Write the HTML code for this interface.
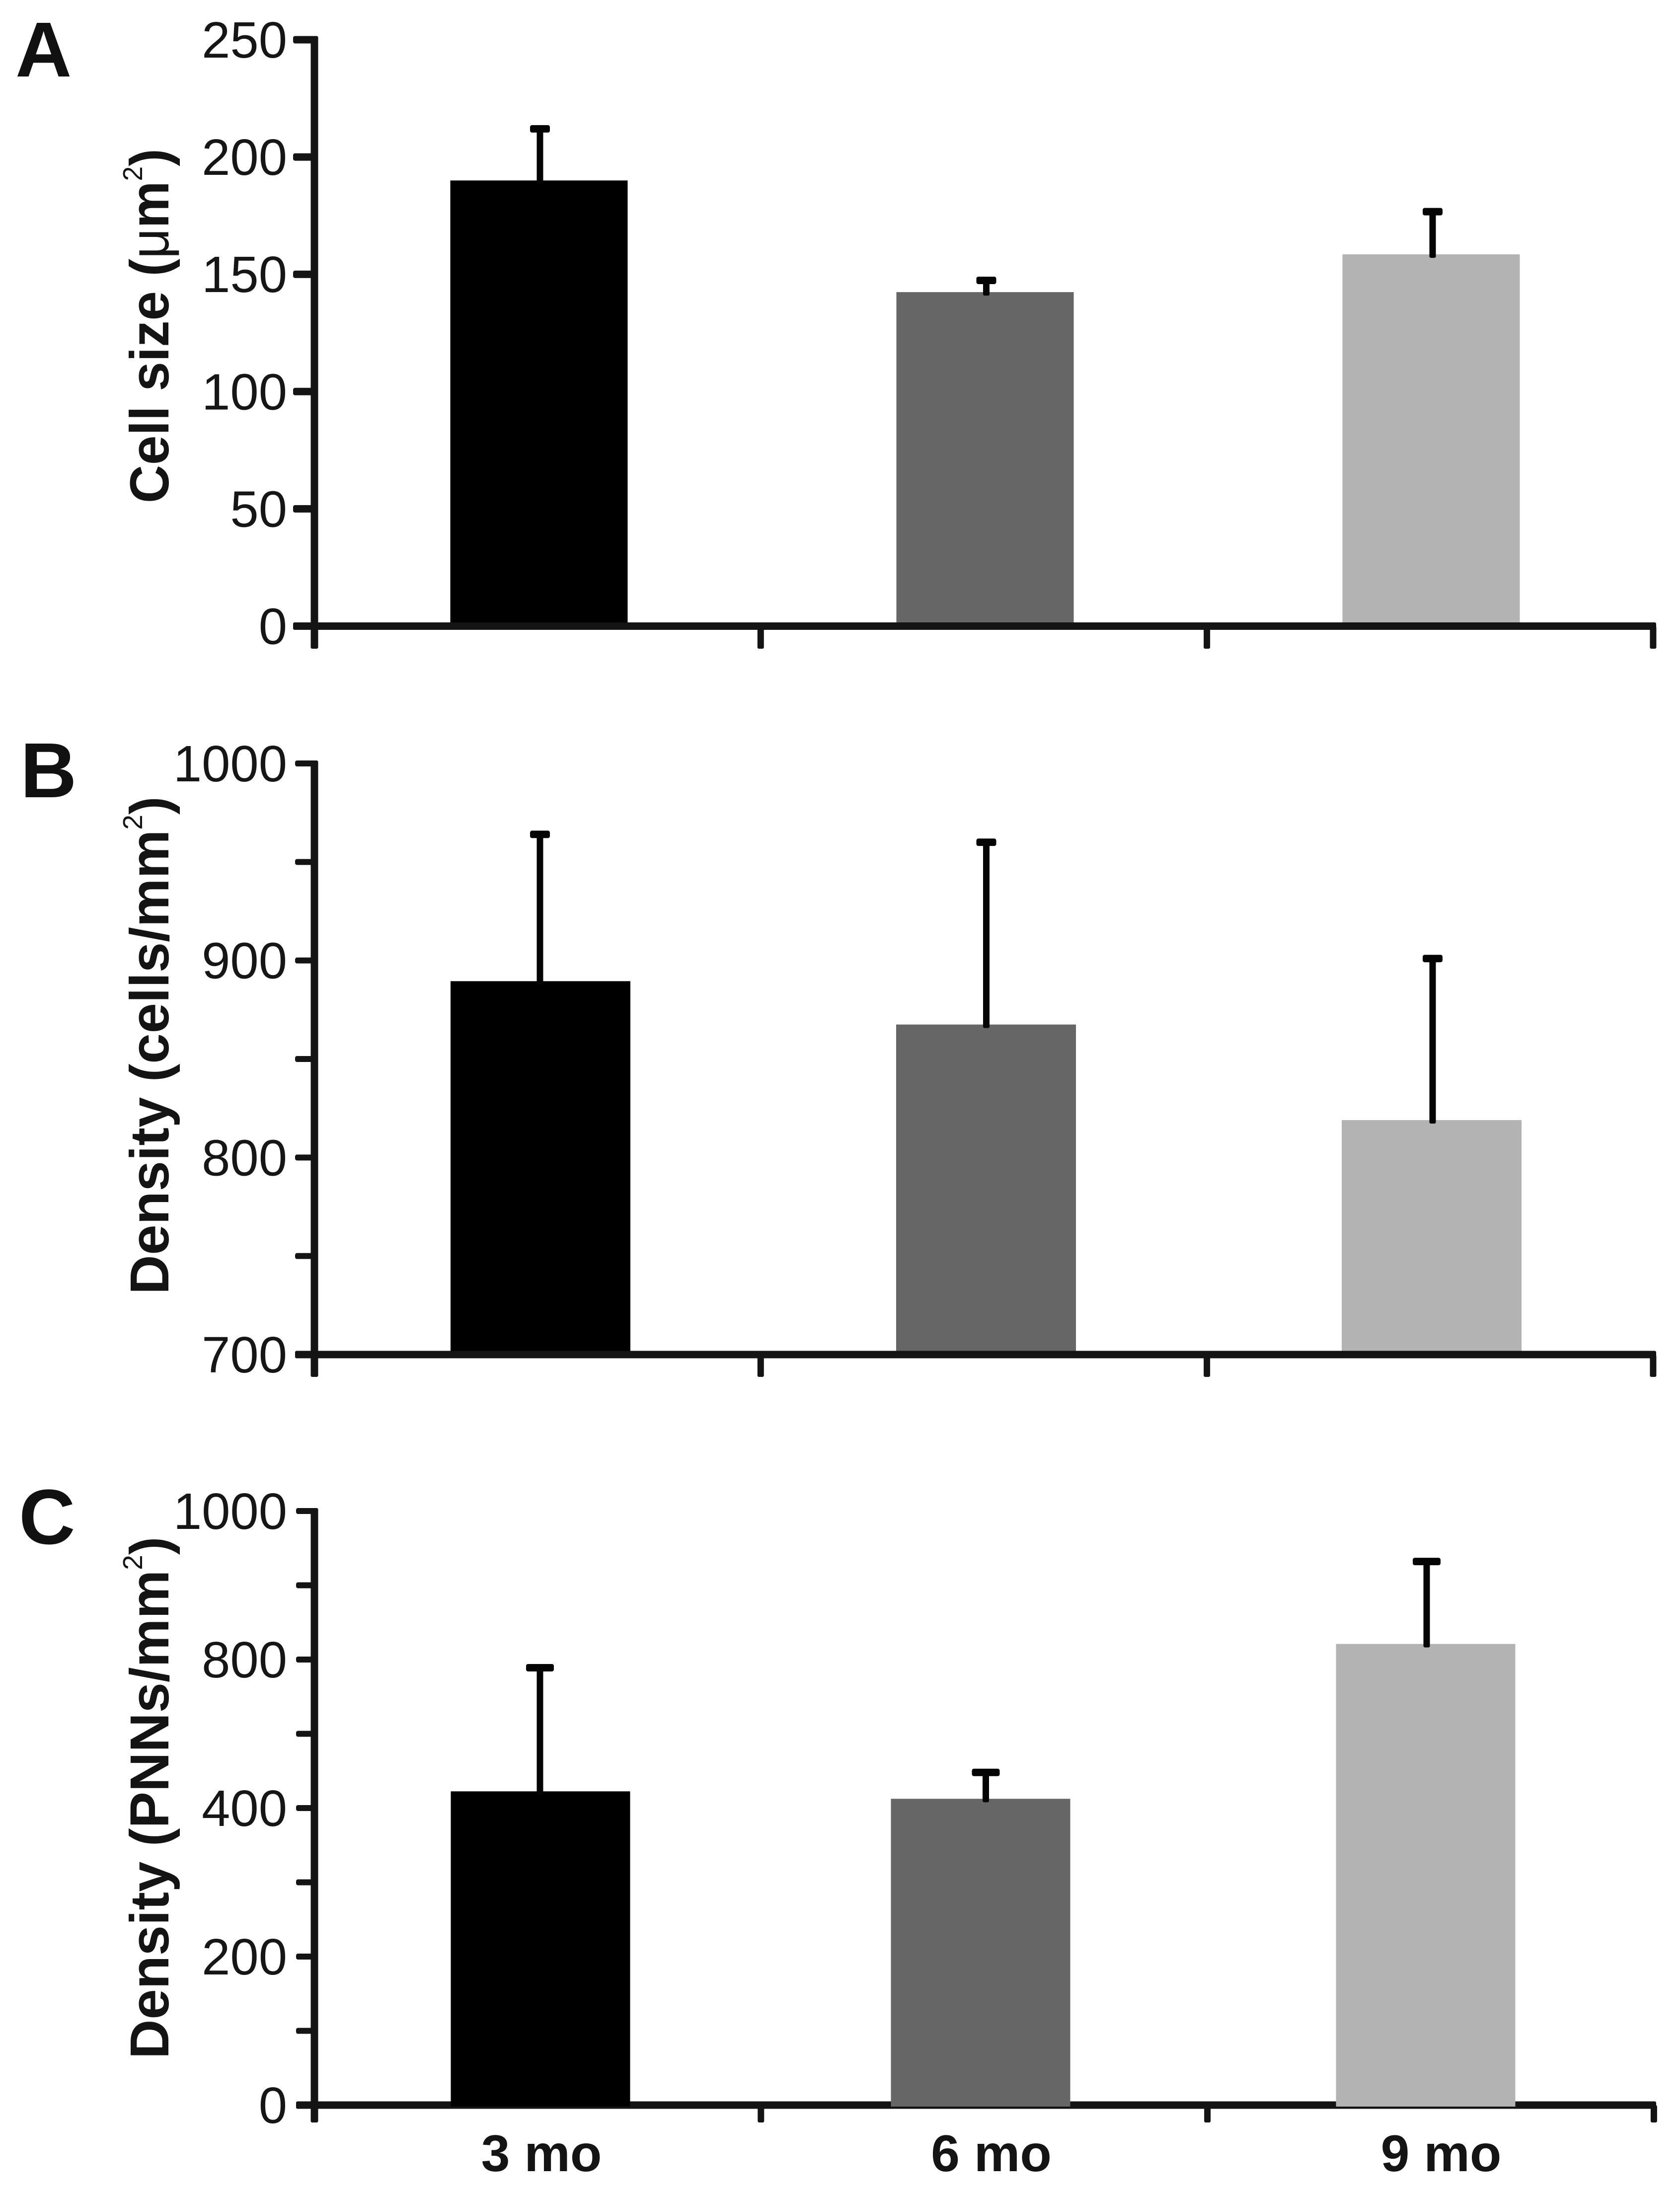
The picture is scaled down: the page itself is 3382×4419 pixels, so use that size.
<!DOCTYPE html>
<html lang="en">
<head>
<meta charset="utf-8">
<title>Cell size and density by age</title>
<style>
  html, body { margin: 0; padding: 0; background: #fff; }
  svg { display: block; font-family: "Liberation Sans", Arial, sans-serif; }
  .tick-label { font-size: 103px; fill: #161616; text-anchor: end; }
  .axis-title { font-size: 110px; font-weight: 700; fill: #141414; }
  .axis-title .thin { font-weight: 400; }
  .panel-letter { font-size: 157px; font-weight: 700; fill: #111; }
  .category-label { font-size: 104px; font-weight: 700; fill: #141414; text-anchor: middle; }
</style>
</head>
<body>
<svg id="chart" xmlns="http://www.w3.org/2000/svg" width="3382" height="4419" viewBox="0 0 3382 4419">
  <rect width="3382" height="4419" fill="#fff"/>

  <text class="panel-letter" x="31" y="154">A</text>
  <text class="panel-letter" x="41" y="1605">B</text>
  <text class="panel-letter" x="38" y="3108">C</text>

  <text class="axis-title" transform="translate(339,1013) rotate(-90) scale(.97,1)">Cell size (<tspan class="thin">μ</tspan>m<tspan class="thin" dy="-53" font-size="55">2</tspan><tspan dy="53">)</tspan></text>
  <text class="axis-title" transform="translate(339,2606) rotate(-90)">Density (cells/mm<tspan class="thin" dy="-53" font-size="55">2</tspan><tspan dy="53">)</tspan></text>
  <text class="axis-title" transform="translate(339,4145) rotate(-90)">Density (PNNs/mm<tspan class="thin" dy="-53" font-size="55">2</tspan><tspan dy="53">)</tspan></text>
</svg>

<script>
// ---- data ----
const categories = ['3 mo', '6 mo', '9 mo'];

const cellSizeValues = [190, 142.4, 158.5];
const cellSizeErrorTops = [212, 147.4, 176.7];
const cellSizeTickValues = [0, 50, 100, 150, 200, 250];
const cellSizeTickLabels = ['0', '50', '100', '150', '200', '250'];

const cellDensityValues = [889.5, 867.5, 819];
const cellDensityErrorTops = [964, 960, 901];
const cellDensityTickValues = [700, 750, 800, 850, 900, 950, 1000];
const cellDensityTickLabels = ['700', '', '800', '', '900', '', '1000'];

// The printed axis of panel C reads 0, 200, 400, 800, 1000 at evenly spaced major ticks.
const pnnDensityValues = [445, 425, 821];
const pnnDensityErrorTops = [778, 496, 932];
const pnnDensityTickValues = [0, 100, 200, 300, 400, 600, 800, 900, 1000];
const pnnDensityTickLabels = ['0', '', '200', '', '400', '', '800', '', '1000'];
const pnnDensityScaleStops = [0, 200, 400, 800, 1000];

const barColors = ['#000000', '#666666', '#b3b3b3'];

// ---- drawing ----
const svg = document.getElementById('chart');
const NS = 'http://www.w3.org/2000/svg';
const AXIS_COLOR = '#141414';
const AXIS_X = 633;
const AXIS_RIGHT = 3334;
const LINE_WIDTH = 15;

function make(tag, attrs, parent) {
  const node = document.createElementNS(NS, tag);
  for (const key in attrs) node.setAttribute(key, attrs[key]);
  parent.appendChild(node);
  return node;
}

function linearFraction(min, max) {
  return function (v) { return (v - min) / (max - min); };
}

function piecewiseFraction(stops) {
  return function (v) {
    const n = stops.length - 1;
    for (let i = 0; i < n; i++) {
      if (v <= stops[i + 1] || i === n - 1) {
        return (i + (v - stops[i]) / (stops[i + 1] - stops[i])) / n;
      }
    }
    return 1;
  };
}

function drawPanel(p) {
  const yOf = function (v) { return p.bottom - p.fraction(v) * (p.bottom - p.top); };
  const group = make('g', {}, svg);
  
  

  function drawBars() {
    p.values.forEach(function (v, i) {
      const cx = p.barStart + i * p.barStep + (i === 1 ? p.middleNudge : 0);
      const bar = make('rect', {
        x: cx - p.barWidth / 2,
        y: yOf(v),
        width: p.barWidth,
        height: p.barBottom - yOf(v),
        fill: barColors[i]
      }, group);
      
      
    });
  }

  function drawAxes() {
    const yAxis = make('rect', {
      x: AXIS_X - LINE_WIDTH / 2, y: p.top - p.tickWidth / 2, width: LINE_WIDTH, height: p.axisEnd - p.top + p.tickWidth / 2,
      fill: AXIS_COLOR, rx: 3
    }, group);
    
    

    const xAxis = make('rect', {
      x: p.tickLeft, y: p.bottom - LINE_WIDTH / 2, width: AXIS_RIGHT - p.tickLeft, height: LINE_WIDTH,
      fill: AXIS_COLOR, rx: 3
    }, group);
    
    

    p.tickValues.forEach(function (t, i) {
      const y = p.top + (p.bottom - p.top) * (1 - i / (p.tickValues.length - 1));
      const tickY = p.evenTicks ? y : yOf(t);
      const tick = make('rect', {
        x: p.tickLeft, y: tickY - p.tickWidth / 2, width: AXIS_X - p.tickLeft, height: p.tickWidth,
        fill: AXIS_COLOR, rx: 4
      }, group);
      
      

      if (p.tickLabels[i]) {
        const label = make('text', {
          class: 'tick-label', x: 578, y: tickY + 36
        }, group);
        label.textContent = p.tickLabels[i];
        
        
      }
    });

    for (let i = 1; i <= categories.length; i++) {
      const tx = AXIS_X + i * p.xTickStep;
      const xTick = make('rect', {
        x: tx - 6.5, y: p.bottom, width: 13, height: p.axisEnd - p.bottom,
        fill: AXIS_COLOR, rx: 3
      }, group);
      
      
    }
  }

  function drawErrors() {
    p.errorTops.forEach(function (e, i) {
      const ex = p.errorStart + i * p.errorStep + (i === 1 ? p.middleNudge * -1 : 0);
      const stem = make('rect', {
        x: ex - 6.5, y: yOf(e), width: 13, height: yOf(p.values[i]) + 7 - yOf(e),
        fill: '#050505', rx: 3
      }, group);
      
      

      const cap = make('rect', {
        x: ex - p.capWidth / 2, y: yOf(e) - 7.5, width: p.capWidth, height: 15,
        fill: '#050505', rx: 4
      }, group);
      
      
    });
  }

  if (p.barsOverAxis) {
    drawAxes();
    drawBars();
  } else {
    drawBars();
    drawAxes();
  }
  drawErrors();
}

drawPanel({
  name: 'panel-a-cell-size',
  values: cellSizeValues, errorTops: cellSizeErrorTops,
  tickValues: cellSizeTickValues, tickLabels: cellSizeTickLabels,
  fraction: linearFraction(0, 250),
  top: 80, bottom: 1260.5, barBottom: 1256, axisEnd: 1306,
  tickLeft: 590, tickWidth: 15,
  barStart: 1085, barStep: 898, barWidth: 357, middleNudge: 0,
  errorStart: 1087, errorStep: 898.5, capWidth: 40,
  xTickStep: 898.3, barsOverAxis: false, evenTicks: false
});

drawPanel({
  name: 'panel-b-cell-density',
  values: cellDensityValues, errorTops: cellDensityErrorTops,
  tickValues: cellDensityTickValues, tickLabels: cellDensityTickLabels,
  fraction: linearFraction(700, 1000),
  top: 1537, bottom: 2727, barBottom: 2723, axisEnd: 2772,
  tickLeft: 594, tickWidth: 12,
  barStart: 1088, barStep: 897, barWidth: 362, middleNudge: 0,
  errorStart: 1087, errorStep: 898.5, capWidth: 40,
  xTickStep: 898.3, barsOverAxis: false, evenTicks: false
});

drawPanel({
  name: 'panel-c-pnn-density',
  values: pnnDensityValues, errorTops: pnnDensityErrorTops,
  tickValues: pnnDensityTickValues, tickLabels: pnnDensityTickLabels,
  fraction: piecewiseFraction(pnnDensityScaleStops),
  top: 3042, bottom: 4238, barBottom: 4241, axisEnd: 4273,
  tickLeft: 596, tickWidth: 12,
  barStart: 1088, barStep: 891, barWidth: 361, middleNudge: -5,
  errorStart: 1087, errorStep: 892.5, capWidth: 56,
  xTickStep: 898.8, barsOverAxis: true, evenTicks: true
});

categories.forEach(function (c, i) {
  const label = make('text', {
    class: 'category-label', x: 1090 + i * 905.5, y: 4371
  }, svg);
  label.textContent = c;
  
  
});
</script>
</body>
</html>
